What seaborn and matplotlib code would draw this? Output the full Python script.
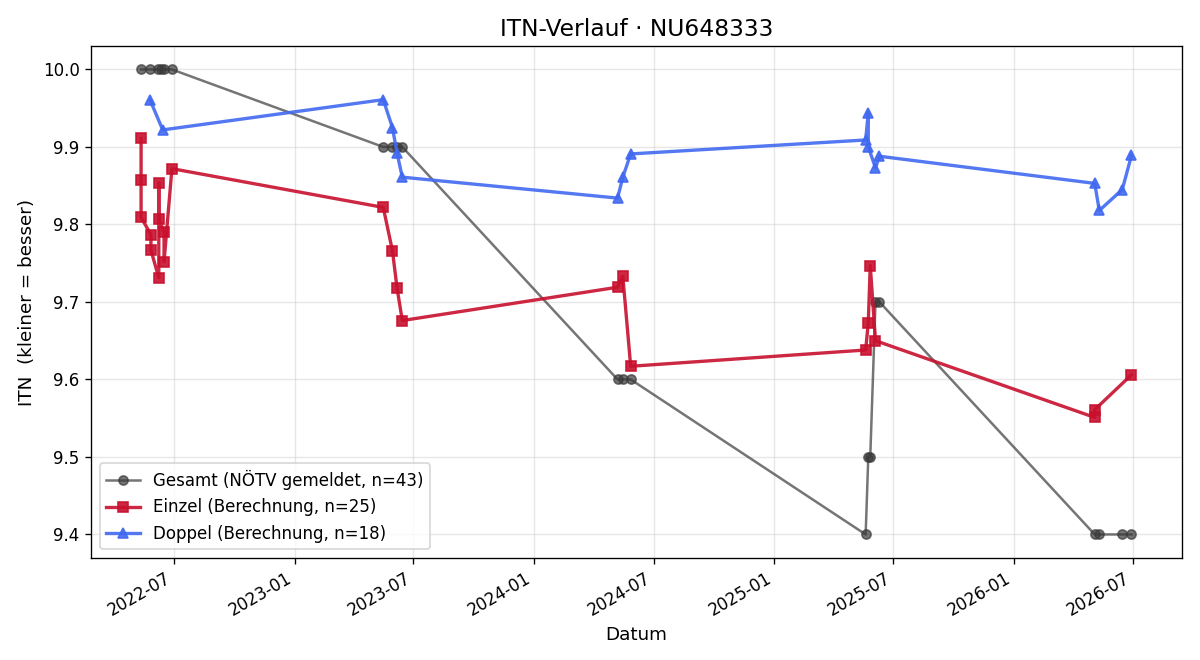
import pandas as pd
import numpy as np
import seaborn as sns
import matplotlib.pyplot as plt
import matplotlib.dates as mdates

# Gesamt (NÖTV gemeldet)
gesamt_datum = ["2022-05-12", "2022-05-26", "2022-06-07", "2022-06-11", "2022-06-16", "2022-06-28",
                "2023-05-16", "2023-05-30", "2023-06-06", "2023-06-14",
                "2024-05-07", "2024-05-15", "2024-05-27",
                "2025-05-20", "2025-05-24", "2025-05-27", "2025-06-04", "2025-06-10",
                "2026-05-04", "2026-05-11", "2026-06-15", "2026-06-29"]
gesamt_itn = [10.0, 10.0, 10.0, 10.0, 10.0, 10.0,
              9.9, 9.9, 9.9, 9.9,
              9.6, 9.6, 9.6,
              9.4, 9.5, 9.5, 9.7, 9.7,
              9.4, 9.4, 9.4, 9.4]

# Einzel (Berechnung)
einzel_datum = ["2022-05-12", "2022-05-12", "2022-05-12", "2022-05-27", "2022-05-27",
                "2022-06-08", "2022-06-08", "2022-06-08", "2022-06-16", "2022-06-16", "2022-06-28",
                "2023-05-16", "2023-05-30", "2023-06-06", "2023-06-14",
                "2024-05-07", "2024-05-15", "2024-05-27",
                "2025-05-20", "2025-05-24", "2025-05-27", "2025-06-04",
                "2026-05-04", "2026-05-04", "2026-06-29"]
einzel_itn = [9.911, 9.857, 9.809, 9.787, 9.767,
              9.731, 9.854, 9.807, 9.790, 9.752, 9.872,
              9.822, 9.766, 9.718, 9.676,
              9.719, 9.733, 9.617,
              9.638, 9.673, 9.747, 9.650,
              9.551, 9.561, 9.606]

# Doppel (Berechnung)
doppel_datum = ["2022-05-26", "2022-06-14",
                "2023-05-16", "2023-05-30", "2023-06-06", "2023-06-14",
                "2024-05-07", "2024-05-15", "2024-05-27",
                "2025-05-20", "2025-05-24", "2025-05-24", "2025-06-04", "2025-06-10",
                "2026-05-04", "2026-05-11", "2026-06-15", "2026-06-29"]
doppel_itn = [9.960, 9.922,
              9.961, 9.925, 9.892, 9.861,
              9.834, 9.861, 9.891,
              9.909, 9.944, 9.900, 9.873, 9.888,
              9.853, 9.818, 9.845, 9.889]

gesamt = pd.DataFrame({"Datum": pd.to_datetime(gesamt_datum), "ITN": gesamt_itn})
einzel = pd.DataFrame({"Datum": pd.to_datetime(einzel_datum), "ITN": einzel_itn})
doppel = pd.DataFrame({"Datum": pd.to_datetime(doppel_datum), "ITN": doppel_itn})

fig, ax = plt.subplots(figsize=(10, 5.5), dpi=120)

sns.lineplot(data=gesamt, x="Datum", y="ITN", estimator=None, sort=False, ax=ax,
             color="#3a3a3a", alpha=0.7, linewidth=1.5, marker="o", markersize=5.5,
             markeredgecolor="#3a3a3a", markeredgewidth=1,
             label="Gesamt (NÖTV gemeldet, n=43)")
sns.lineplot(data=einzel, x="Datum", y="ITN", estimator=None, sort=False, ax=ax,
             color="#c8102e", alpha=0.9, linewidth=2, marker="s", markersize=6.5,
             markeredgecolor="#c8102e", markeredgewidth=1,
             label="Einzel (Berechnung, n=25)")
sns.lineplot(data=doppel, x="Datum", y="ITN", estimator=None, sort=False, ax=ax,
             color="#4169f0", alpha=0.9, linewidth=2, marker="^", markersize=6.5,
             markeredgecolor="#4169f0", markeredgewidth=1,
             label="Doppel (Berechnung, n=18)")

ax.set_title("ITN-Verlauf · NU648333", fontsize=14)
ax.set_xlabel("Datum", fontsize=11)
ax.set_ylabel("ITN  (kleiner = besser)", fontsize=11)
ax.set_ylim(9.37, 10.03)
ax.set_yticks([9.4, 9.5, 9.6, 9.7, 9.8, 9.9, 10.0])
ax.set_xlim(pd.Timestamp("2022-02-25"), pd.Timestamp("2026-09-14"))
ax.xaxis.set_major_locator(mdates.MonthLocator(bymonth=[1, 7]))
ax.xaxis.set_major_formatter(mdates.DateFormatter("%Y-%m"))
ax.grid(True, alpha=0.3)
ax.legend(loc="lower left")
fig.autofmt_xdate()

plt.subplots_adjust(left=0.076, right=0.985, top=0.93, bottom=0.155)
plt.savefig("out.png")
